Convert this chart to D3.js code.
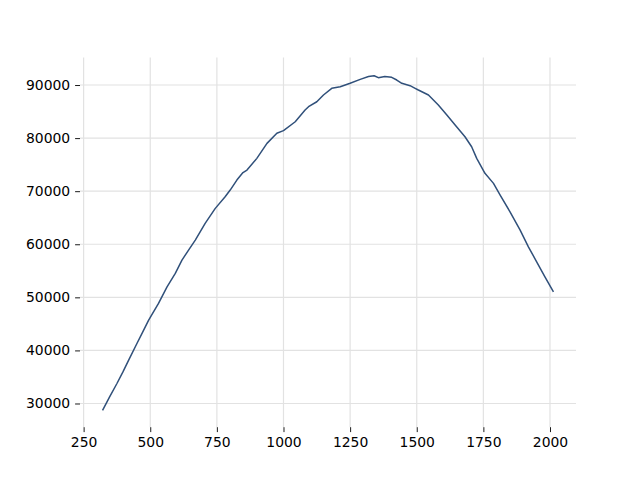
<!DOCTYPE html>
<html>
<head>
<meta charset="utf-8">
<script src="https://cdn.jsdelivr.net/npm/d3@7"></script>
<style>
  html, body { margin: 0; padding: 0; background: #fff; }
  svg { display: block; }
  .tick text { font-family: "DejaVu Sans", sans-serif; font-size: 13.9px; fill: #000; }
</style>
</head>
<body>
<svg id="chart" width="640" height="480"></svg>
<script>
// Values
const xValues = [321, 348, 375, 398, 419, 450, 472, 494, 531, 563, 594, 619, 645, 669, 706, 744, 781, 800, 825, 848, 863, 900, 938, 975, 1000, 1044, 1081, 1094, 1125, 1150, 1181, 1213, 1250, 1288, 1319, 1340, 1356, 1380, 1406, 1425, 1444, 1475, 1494, 1506, 1544, 1581, 1613, 1644, 1681, 1706, 1725, 1756, 1788, 1813, 1850, 1888, 1919, 1950, 1981, 2013];
const yValues = [28700, 31300, 33770, 36000, 38160, 41310, 43500, 45700, 48850, 51980, 54500, 57010, 59000, 60780, 63930, 66760, 68950, 70210, 72090, 73500, 73980, 76180, 79010, 80900, 81400, 83080, 85290, 85910, 86850, 88120, 89380, 89680, 90320, 91070, 91600, 91750, 91380, 91600, 91450, 90940, 90320, 89870, 89380, 89060, 88120, 86230, 84350, 82460, 80250, 78370, 76180, 73360, 71470, 69270, 66120, 62670, 59520, 56690, 53870, 51040];
const xTicks = [250, 500, 750, 1000, 1250, 1500, 1750, 2000];
const yTicks = [30000, 40000, 50000, 60000, 70000, 80000, 90000];

const data = xValues.map((x, i) => ({ x, y: yValues[i] }));

const m = { left: 80, right: 576, top: 57.6, bottom: 427.2 };

const xMin = d3.min(xValues), xMax = d3.max(xValues);
const yMin = d3.min(yValues), yMax = 92000;
const xPad = (xMax - xMin) * 0.05, yPad = (yMax - yMin) * 0.05;

const x = d3.scaleLinear().domain([xMin - xPad, xMax + xPad]).range([m.left, m.right]);
const y = d3.scaleLinear().domain([yMin - yPad, yMax + yPad]).range([m.bottom, m.top]);

const svg = d3.select("#chart");

// grid
svg.append("g").selectAll("line").data(xTicks).join("line")
  .attr("x1", d => x(d)).attr("x2", d => x(d))
  .attr("y1", m.top).attr("y2", m.bottom)
  .attr("stroke", "#e2e2e2").attr("stroke-width", 1.2);
svg.append("g").selectAll("line").data(yTicks).join("line")
  .attr("x1", m.left).attr("x2", m.right)
  .attr("y1", d => y(d)).attr("y2", d => y(d))
  .attr("stroke", "#e2e2e2").attr("stroke-width", 1.2);

// axes
const xAxis = svg.append("g").attr("transform", `translate(0,${m.bottom})`)
  .call(d3.axisBottom(x).tickValues(xTicks).tickFormat(d3.format("d")).tickSize(4.9).tickPadding(4.9));
const yAxis = svg.append("g").attr("transform", `translate(${m.left},0)`)
  .call(d3.axisLeft(y).tickValues(yTicks).tickFormat(d3.format("d")).tickSize(4.9).tickPadding(4.9));
[xAxis, yAxis].forEach(g => {
  g.select(".domain").remove();
  g.selectAll(".tick line").attr("stroke", "#000").attr("stroke-width", 0.9);
});

// line
svg.append("path").datum(data)
  .attr("fill", "none")
  .attr("stroke", "#30507a")
  .attr("stroke-width", 1.5)
  .attr("stroke-linejoin", "round")
  .attr("d", d3.line().x(d => x(d.x)).y(d => y(d.y)));
</script>
</body>
</html>
